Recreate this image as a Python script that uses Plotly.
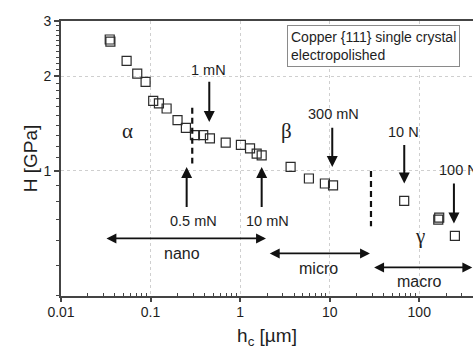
import plotly.graph_objects as go

# ---- data ----
hc_um = [0.0350, 0.0356, 0.054, 0.071, 0.088, 0.107, 0.124, 0.151, 0.200, 0.248,
         0.313, 0.387, 0.46, 0.69, 1.02, 1.29, 1.53, 1.74, 3.66, 5.86, 8.84, 10.9,
         67.9, 163.0, 167.0, 250.0]
H_gpa = [2.62, 2.58, 2.24, 2.04, 1.92, 1.67, 1.64, 1.58, 1.45, 1.37,
         1.30, 1.30, 1.27, 1.23, 1.21, 1.18, 1.135, 1.12, 1.03, 0.946, 0.912, 0.90,
         0.803, 0.70, 0.71, 0.621]

boundary_hc = [0.292, 28.9]
boundary_H_top = [1.59, 1.00]
boundary_H_bottom = [1.056, 0.667]

x_tick_vals = [0.01, 0.1, 1, 10, 100]
x_tick_text = ["0.01", "0.1", "1", "10", "100"]
y_tick_vals = [1, 2, 3]
y_tick_text = ["1", "2", "3"]

x_minor = [m * 10 ** e for e in range(-2, 3) for m in range(2, 10) if m * 10 ** e <= 400]
y_minor = [round(v / 10, 2) for v in range(4, 10)] + [round(1 + v / 10, 2) for v in range(1, 10)] \
          + [round(2 + v / 10, 2) for v in range(1, 10)]

SANS = "Liberation Sans, Arial, sans-serif"
SERIF = "Liberation Serif, Times New Roman, serif"
INK = "#1e1e1e"

fig = go.Figure()

fig.add_trace(go.Scatter(
    x=hc_um, y=H_gpa, mode="markers",
    marker=dict(symbol="square-open", size=9, color="#2b2b2b", line=dict(width=1.2, color="#2b2b2b")),
    showlegend=False, cliponaxis=False))

for xb, yt, yb in zip(boundary_hc, boundary_H_top, boundary_H_bottom):
    fig.add_trace(go.Scatter(
        x=[xb, xb], y=[yt, yb], mode="lines",
        line=dict(color="#111", width=2.2, dash="6px,4px"),
        showlegend=False, hoverinfo="skip"))

ann = []

def arrow(x, y_tail, y_tip):
    ann.append(dict(x=x, y=y_tip, ax=x, ay=y_tail, xref="x", yref="y", axref="x", ayref="y",
                    showarrow=True, arrowhead=2, arrowsize=1.1, arrowwidth=2, arrowcolor="#111",
                    text=""))

def label(x, y, text, size=14.5, font=SANS, xanchor="center"):
    ann.append(dict(x=x, y=y, xref="x", yref="y", text=text, showarrow=False,
                    xanchor=xanchor, yanchor="middle",
                    font=dict(family=font, size=size, color=INK)))

def span(x0, x1, y):
    ann.append(dict(x=x1, y=y, ax=x0, ay=y, xref="x", yref="y", axref="x", ayref="y",
                    showarrow=True, arrowhead=2, startarrowhead=2, arrowside="end+start",
                    arrowsize=1.1, startarrowsize=1.1, arrowwidth=1.8, arrowcolor="#111", text=""))

# force markers (log10 coordinates)
arrow(-0.3445, 0.2883, 0.1558); label(-0.356, 0.3223, "1 mN")
arrow(-0.597, -0.1195, 0.0127); label(-0.523, -0.160, "0.5 mN")
arrow(0.2405, -0.1195, 0.0127); label(0.3074, -0.160, "10 mN")
arrow(1.0286, 0.1421, 0.0127); label(1.0476, 0.1825, "300 mN")
arrow(1.8324, 0.0871, -0.0401); label(1.8213, 0.124, "10 N")
arrow(2.387, -0.035, -0.1672); label(2.194, 0.0022, "100 N", xanchor="left")

# scale ranges
span(-1.509, 0.2885, -0.2149); label(-0.6526, -0.2626, "nano", size=16)
span(0.3142, 1.4494, -0.2626); label(0.8723, -0.3102, "micro", size=16)
span(1.4796, 2.592, -0.3071); label(2.0, -0.3528, "macro", size=16)

# regimes
label(-1.252, 0.126, "α", size=21, font=SERIF)
label(0.5196, 0.127, "β", size=21, font=SERIF)
label(2.0076, -0.208, "γ", size=21, font=SERIF)

# info box
ann.append(dict(xref="paper", yref="paper", x=0.548, y=0.9844, xanchor="left", yanchor="top",
                text="Copper {111} single crystal<br>electropolished", showarrow=False, align="left",
                font=dict(family=SANS, size=14, color=INK),
                bordercolor="#8a8a8a", borderwidth=1, borderpad=3, bgcolor="white"))

fig.update_layout(
    width=473, height=352,
    margin=dict(l=61, r=0, t=21, b=56),
    paper_bgcolor="white", plot_bgcolor="white",
    annotations=ann,
    font=dict(family=SANS, color=INK),
    xaxis=dict(
        type="log", range=[-2, 2.6],
        tickmode="array", tickvals=x_tick_vals, ticktext=x_tick_text,
        ticks="outside", ticklen=4, tickwidth=1.5, tickcolor="#444",
        tickfont=dict(size=14, color=INK), ticklabelstandoff=-2,
        minor=dict(tickmode="array", tickvals=x_minor, ticks="inside", ticklen=3,
                   tickwidth=1.2, tickcolor="#444", showgrid=False),
        showline=True, linecolor="#444", linewidth=1.8, mirror=True,
        showgrid=True, gridcolor="#cfcfcf", griddash="dot", gridwidth=1,
        zeroline=False,
        title=dict(text="h<sub>c</sub> [µm]", font=dict(size=19, color=INK), standoff=10),
    ),
    yaxis=dict(
        type="log", range=[-0.398, 0.4771],
        tickmode="array", tickvals=y_tick_vals, ticktext=y_tick_text,
        ticks="outside", ticklen=5, tickwidth=1.5, tickcolor="#444",
        tickfont=dict(size=14, color=INK),
        minor=dict(tickmode="array", tickvals=y_minor, ticks="outside", ticklen=3,
                   tickwidth=1.2, tickcolor="#444", showgrid=False),
        showline=True, linecolor="#444", linewidth=1.8,
        showgrid=True, gridcolor="#cfcfcf", griddash="dot", gridwidth=1,
        zeroline=False,
        title=dict(text="H [GPa]", font=dict(size=19, color=INK), standoff=1),
    ),
)

fig.write_html("out.html",
               config={"displayModeBar": False},
               post_script="document.body.style.margin='0';document.body.style.padding='0';")
